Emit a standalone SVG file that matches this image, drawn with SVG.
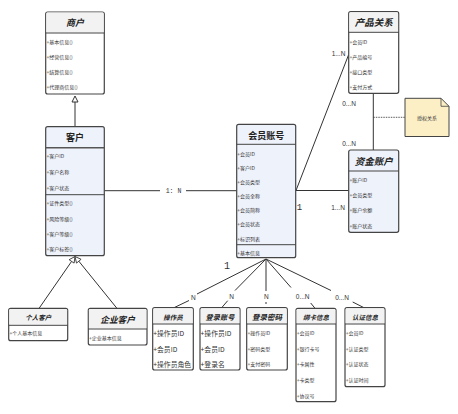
<svg xmlns="http://www.w3.org/2000/svg" width="458" height="414" viewBox="0 0 458 414">
<style>
.box{stroke:#444;stroke-width:1.2;}
.hd{fill:#f2f2f2;}
.wh{fill:#ffffff;}
.bl{fill:#eef2fb;}
.div{stroke:#444;stroke-width:1;fill:none;}
.divt{stroke:#555;stroke-width:1.6;fill:none;}
.t{font-family:"Noto Sans CJK SC","Noto Sans",sans-serif;font-weight:bold;fill:#222;text-anchor:middle;dominant-baseline:central;}
.ti{font-style:italic;}
.it{font-family:"Noto Sans CJK SC","Noto Sans",sans-serif;font-size:5px;fill:#333;dominant-baseline:central;}
.itb{font-family:"Noto Sans CJK SC","Noto Sans",sans-serif;font-size:6.8px;fill:#333;dominant-baseline:central;}
.ln{stroke:#333;stroke-width:1;fill:none;}
.lb{font-family:"Liberation Sans",Arial,sans-serif;font-size:6.5px;fill:#333;text-anchor:middle;dominant-baseline:central;}
.lm{font-family:"Liberation Mono","Courier New",monospace;fill:#333;text-anchor:middle;dominant-baseline:central;}
</style>

<g id="connectors">
  <line class="ln" x1="75" y1="102" x2="75" y2="126.7"/>
  <polygon points="75,96 72,102 78,102" fill="#fff" stroke="#333" stroke-width="1"/>
  <line class="ln" x1="71.6" y1="261.4" x2="39.3" y2="308"/>
  <line class="ln" x1="78.8" y1="261.2" x2="116.7" y2="308"/>
  <polygon points="75,256.5 74.1,263.1 69.1,259.7" fill="#fff" stroke="#333" stroke-width="0.9"/>
  <polygon points="75,256.5 81.1,259.3 76.5,263.1" fill="#fff" stroke="#333" stroke-width="0.9"/>
  <line class="ln" x1="104.3" y1="190.7" x2="160" y2="190.7"/>
  <line class="ln" x1="186" y1="190.7" x2="236.7" y2="190.7"/>
  <text class="lm" x="173.5" y="191.5" font-size="6.5">1: N</text>
  <line class="ln" x1="295.7" y1="190.5" x2="348.7" y2="190.5"/>
  <text class="lm" x="299.5" y="207.5" font-size="9">1</text>
  <text class="lb" x="338" y="207.5">1...N</text>
  <line class="ln" x1="296" y1="190.5" x2="348.5" y2="55"/>
  <text class="lb" x="338.5" y="53.5">1...N</text>
  <line class="ln" x1="373.3" y1="93.3" x2="373.3" y2="150"/>
  <text class="lb" x="349" y="103.3">0...N</text>
  <text class="lb" x="349" y="143.3">0...N</text>
  <line x1="373.3" y1="117.3" x2="405" y2="117.3" stroke="#333" stroke-width="0.8" stroke-dasharray="1.5,1"/>
  <text class="lm" x="227" y="266.5" font-size="10">1</text>
  <line class="ln" x1="266" y1="259" x2="197" y2="294"/>
  <text class="lb" x="193.3" y="297">N</text>
  <line class="ln" x1="189" y1="300.5" x2="174" y2="307.7"/>
  <line class="ln" x1="266" y1="259" x2="235" y2="290.5"/>
  <text class="lb" x="231.7" y="296">N</text>
  <line class="ln" x1="227.7" y1="300.7" x2="221.7" y2="307.7"/>
  <line class="ln" x1="266" y1="259" x2="266" y2="291"/>
  <text class="lb" x="266.3" y="296">N</text>
  <line class="ln" x1="266" y1="302" x2="266" y2="304"/>
  <line class="ln" x1="266" y1="259" x2="291" y2="287.5"/>
  <text class="lb" x="302.7" y="296">0...N</text>
  <line class="ln" x1="310.7" y1="303" x2="315" y2="308.3"/>
  <line class="ln" x1="266" y1="259" x2="331" y2="290.5"/>
  <text class="lb" x="342" y="297.3">0...N</text>
  <line class="ln" x1="352.7" y1="302" x2="364" y2="307.7"/>
</g>

<g id="shanghu">
  <rect class="box wh" x="45.7" y="12" width="58.6" height="82" rx="2"/>
  <path class="hd" d="M46.3,32.5 V14 Q46.3,12.6 47.7,12.6 H102.3 Q103.7,12.6 103.7,14 V32.5 Z"/>
  <line class="div" x1="45.7" y1="33" x2="104.3" y2="33"/>
  <text class="t ti" x="75" y="22.5" font-size="9">商户</text>
  <text class="it" x="46.5" y="41.3">+基本信息()</text>
  <text class="it" x="46.5" y="56">+经营信息()</text>
  <text class="it" x="46.5" y="71">+结算信息()</text>
  <text class="it" x="46.5" y="86">+代理商信息()</text>
</g>

<g id="kehu">
  <rect class="box bl" x="45.7" y="126.7" width="58.6" height="129" rx="2"/>
  <line class="divt" x1="45.7" y1="147.7" x2="104.3" y2="147.7"/>
  <line class="div" x1="45.7" y1="194.7" x2="104.3" y2="194.7"/>
  <text class="t" x="75" y="137.5" font-size="9">客户</text>
  <text class="it" x="46.5" y="155.7">+客户ID</text>
  <text class="it" x="46.5" y="171.7">+客户名称</text>
  <text class="it" x="46.5" y="187">+客户状态</text>
  <text class="it" x="46.5" y="202">+证件类型()</text>
  <text class="it" x="46.5" y="218">+风险等级()</text>
  <text class="it" x="46.5" y="233.3">+客户等级()</text>
  <text class="it" x="46.5" y="248">+客户标签()</text>
</g>

<g id="huiyuanzhanghao">
  <rect class="box bl" x="236.7" y="124.3" width="59" height="133.4" rx="2"/>
  <line class="div" x1="236.7" y1="144.3" x2="295.7" y2="144.3"/>
  <line class="div" x1="236.7" y1="244.7" x2="295.7" y2="244.7"/>
  <text class="t" x="266.2" y="135" font-size="9">会员账号</text>
  <text class="it" x="237.3" y="153">+会员ID</text>
  <text class="it" x="237.3" y="167">+客户ID</text>
  <text class="it" x="237.3" y="181.3">+会员类型</text>
  <text class="it" x="237.3" y="195.7">+会员全称</text>
  <text class="it" x="237.3" y="209.7">+会员简称</text>
  <text class="it" x="237.3" y="223.7">+会员状态</text>
  <text class="it" x="237.3" y="238">+标识列表</text>
  <text class="it" x="237.3" y="252.3">+基本信息</text>
</g>

<g id="chanpinguanxi">
  <rect class="box wh" x="348.7" y="11.7" width="50" height="81.6" rx="2"/>
  <path class="hd" d="M349.3,31.8 V13.7 Q349.3,12.3 350.7,12.3 H396.7 Q398.1,12.3 398.1,13.7 V31.8 Z"/>
  <line class="div" x1="348.7" y1="32.3" x2="398.7" y2="32.3"/>
  <text class="t ti" x="373.7" y="22.3" font-size="9.5">产品关系</text>
  <text class="it" x="349.5" y="41.3">+会员ID</text>
  <text class="it" x="349.5" y="56">+产品编号</text>
  <text class="it" x="349.5" y="71">+接口类型</text>
  <text class="it" x="349.5" y="86.3">+支付方式</text>
</g>

<g id="shouquanguanxi">
  <path d="M405,98.3 H441 L449,106.3 V136.5 H405 Z" fill="#fcefc6" stroke="#444" stroke-width="1"/>
  <path d="M441,98.3 V106.3 H449" fill="none" stroke="#444" stroke-width="0.8"/>
  <text x="427" y="117.3" font-family="'Noto Sans CJK SC','Noto Sans',sans-serif" font-size="5" fill="#333" text-anchor="middle" dominant-baseline="central">授权关系</text>
</g>

<g id="zijinzhanghu">
  <rect class="box bl" x="348.7" y="150" width="50" height="82.3" rx="2"/>
  <line class="div" x1="348.7" y1="171" x2="398.7" y2="171"/>
  <text class="t ti" x="373.7" y="160.5" font-size="9.5">资金账户</text>
  <text class="it" x="349.5" y="179">+账户ID</text>
  <text class="it" x="349.5" y="194.3">+会员类型</text>
  <text class="it" x="349.5" y="209.7">+账户余额</text>
  <text class="it" x="349.5" y="225.3">+账户状态</text>
</g>

<g id="gerenkehu">
  <rect class="box wh" x="8.7" y="308.3" width="59" height="32.4" rx="2"/>
  <path class="hd" d="M9.3,324.8 V310.3 Q9.3,308.9 10.7,308.9 H65.7 Q67.1,308.9 67.1,310.3 V324.8 Z"/>
  <line class="div" x1="8.7" y1="325.3" x2="67.7" y2="325.3"/>
  <text class="t ti" x="38.2" y="317.3" font-size="6.5">个人客户</text>
  <text class="it" x="9.5" y="332.7">+个人基本信息</text>
</g>

<g id="qiyekehu">
  <rect class="box wh" x="88.3" y="308.3" width="58.7" height="36.7" rx="2"/>
  <path class="hd" d="M88.9,328.5 V310.3 Q88.9,308.9 90.3,308.9 H145 Q146.4,308.9 146.4,310.3 V328.5 Z"/>
  <line class="div" x1="88.3" y1="329" x2="147" y2="329"/>
  <text class="t ti" x="117.6" y="319.3" font-size="8.7">企业客户</text>
  <text class="it" x="89" y="337.7">+企业基本信息</text>
</g>

<g id="caozuoyuan">
  <rect class="box wh" x="152.7" y="307.7" width="40.6" height="62.3" rx="2"/>
  <path class="hd" d="M153.3,323.5 V309.7 Q153.3,308.3 154.7,308.3 H191.3 Q192.7,308.3 192.7,309.7 V323.5 Z"/>
  <line class="div" x1="152.7" y1="324" x2="193.3" y2="324"/>
  <text class="t ti" x="173" y="316.5" font-size="6.5">操作员</text>
  <text class="itb" x="153.3" y="332.7">+操作员ID</text>
  <text class="itb" x="153.3" y="348.7">+会员ID</text>
  <text class="itb" x="153.3" y="364.3">+操作员角色</text>
</g>

<g id="dengluzhanghao">
  <rect class="box wh" x="200" y="307.7" width="40" height="62.3" rx="2"/>
  <path class="hd" d="M200.6,323.5 V309.7 Q200.6,308.3 202,308.3 H238 Q239.4,308.3 239.4,309.7 V323.5 Z"/>
  <line class="div" x1="200" y1="324" x2="240" y2="324"/>
  <text class="t ti" x="220" y="316.5" font-size="7.2">登录账号</text>
  <text class="itb" x="200.6" y="332.7">+操作员ID</text>
  <text class="itb" x="200.6" y="348.7">+会员ID</text>
  <text class="itb" x="200.6" y="364.3">+登录名</text>
</g>

<g id="denglumima">
  <rect class="box wh" x="246.7" y="307.7" width="40.6" height="62.3" rx="2"/>
  <path class="hd" d="M247.3,323.5 V309.7 Q247.3,308.3 248.7,308.3 H285.3 Q286.7,308.3 286.7,309.7 V323.5 Z"/>
  <line class="div" x1="246.7" y1="324" x2="287.3" y2="324"/>
  <text class="t ti" x="267" y="316.5" font-size="7.5">登录密码</text>
  <text class="it" x="247.5" y="332.3">+操作员ID</text>
  <text class="it" x="247.5" y="348">+密码类型</text>
  <text class="it" x="247.5" y="363.7">+支付密码</text>
</g>

<g id="bangkaxinxi">
  <rect class="box wh" x="296" y="308.3" width="40" height="93.4" rx="2"/>
  <path class="hd" d="M296.6,323.5 V310.3 Q296.6,308.9 298,308.9 H334 Q335.4,308.9 335.4,310.3 V323.5 Z"/>
  <line class="div" x1="296" y1="324" x2="336" y2="324"/>
  <text class="t ti" x="316" y="316.7" font-size="6.5">绑卡信息</text>
  <text class="it" x="296.8" y="332.7">+会员ID</text>
  <text class="it" x="296.8" y="348.3">+银行卡号</text>
  <text class="it" x="296.8" y="363.7">+卡属性</text>
  <text class="it" x="296.8" y="379">+卡类型</text>
  <text class="it" x="296.8" y="395">+协议号</text>
</g>

<g id="renzhengxinxi">
  <rect class="box wh" x="345" y="307.7" width="40" height="79" rx="2"/>
  <path class="hd" d="M345.6,323.5 V309.7 Q345.6,308.3 347,308.3 H383 Q384.4,308.3 384.4,309.7 V323.5 Z"/>
  <line class="div" x1="345" y1="324" x2="385" y2="324"/>
  <text class="t ti" x="365" y="316.5" font-size="6.5">认证信息</text>
  <text class="it" x="345.8" y="332.7">+会员ID</text>
  <text class="it" x="345.8" y="348.3">+认证类型</text>
  <text class="it" x="345.8" y="363.7">+认证状态</text>
  <text class="it" x="345.8" y="379">+认证时间</text>
</g>
</svg>
